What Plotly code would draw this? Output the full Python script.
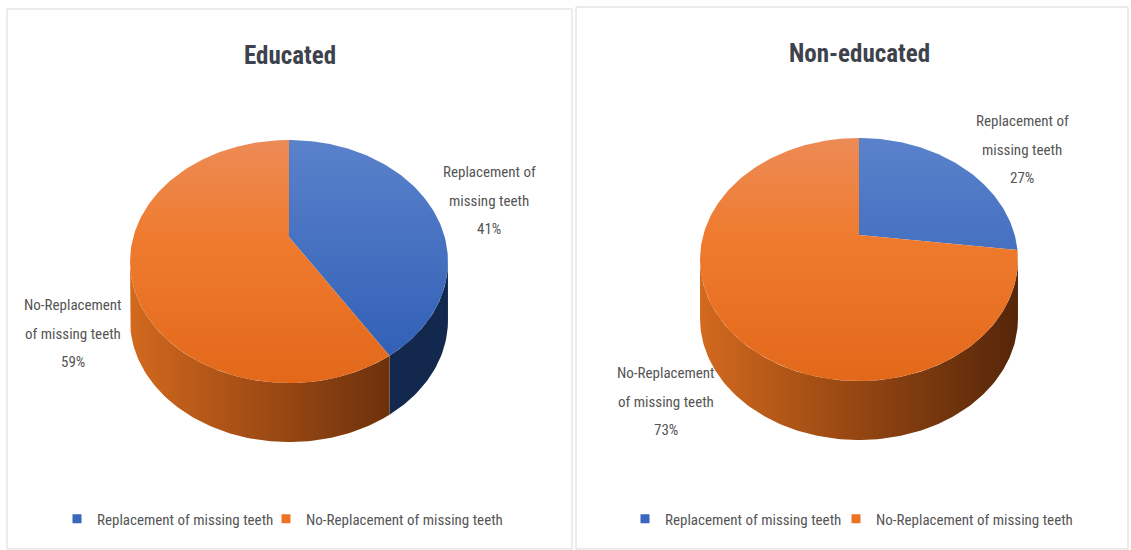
import numpy as np
import plotly.graph_objects as go

# ---------------- data ----------------
categories = ["Replacement of missing teeth", "No-Replacement of missing teeth"]
panel_titles = ["Educated", "Non-educated"]
educated_pct = [41, 59]
non_educated_pct = [27, 73]
label_lines = [["Replacement of", "missing teeth"], ["No-Replacement", "of missing teeth"]]

# ---------------- style ----------------
W, H = 1131, 550
FONT = "Liberation Sans Narrow, Roboto Condensed, Roboto, Open Sans, sans-serif"
TOP_SCALES = [
    [[0, "#2d5cb4"], [1, "#5a82cb"]],
    [[0, "#e3681a"], [0.6, "#ef7b2f"], [1, "#ec8b56"]],
]
SIDE_COLORS = ["#13284d", None]
SIDE_SCALE = [[0, "#d2691e"], [0.45, "#9b4913"], [1, "#552609"]]
LEGEND_COLORS = ["#3a66bd", "#ec7224"]
PERSP = 0.2016          # perspective foreshortening
SX, SY = 155.7, 116.6   # projected radii
PANELS = [
    dict(cx=289, cy=H - 237, depth=59,
         title_x=290, title_y=55, legend_x=[57, 266],
         label_pos=[(489, 172), (73, 305)]),
    dict(cx=859, cy=H - 235, depth=59,
         title_x=859, title_y=53, legend_x=[625, 836],
         label_pos=[(1022, 121), (666, 373)]),
]
LINE_GAP = 28.5


def proj(g, t, dy=0.0):
    w = 1 + PERSP * np.cos(t)
    return g["cx"] + SX * np.sin(t) / w, g["cy"] + SY * np.cos(t) / w - dy


def arc(g, p0, p1, dy=0.0):
    n = max(3, int(abs(p1 - p0) / (2 * np.pi) * 300))
    return proj(g, np.linspace(p0, p1, n), dy)


def pie3d(values, g):
    traces_side, traces_top = [], []
    total = float(sum(values))
    sil = np.arccos(-PERSP)               # silhouette angle (widest point)
    y_top = g["cy"] + SY / (1 + PERSP)
    y_bot = g["cy"] - SY / (1 - PERSP)
    cum = 0.0
    for i, v in enumerate(values):
        p0 = 2 * np.pi * cum / total
        p1 = 2 * np.pi * (cum + v) / total
        cum += v
        # visible side wall (front part)
        s, e = max(p0, sil), min(p1, 2 * np.pi - sil)
        if e > s:
            xt, yt = arc(g, s, e)
            xb, yb = arc(g, e, s, g["depth"])
            xs = np.concatenate([xt, xb, xt[:1]])
            ys = np.concatenate([yt, yb, yt[:1]])
            kw = dict(x=xs, y=ys, mode="lines", fill="toself",
                      line=dict(width=0), hoverinfo="skip", showlegend=False)
            if SIDE_COLORS[i]:
                kw["fillcolor"] = SIDE_COLORS[i]
            else:
                kw["fillgradient"] = dict(type="horizontal", colorscale=SIDE_SCALE,
                                          start=g["cx"] - SX * 1.02, stop=g["cx"] + SX * 1.02)
            traces_side.append(go.Scatter(**kw))
        # top face
        xa, ya = arc(g, p0, p1)
        xs = np.concatenate([[g["cx"]], xa, [g["cx"]]])
        ys = np.concatenate([[g["cy"]], ya, [g["cy"]]])
        traces_top.append(go.Scatter(
            x=xs, y=ys, mode="lines", fill="toself", line=dict(width=0),
            fillgradient=dict(type="vertical", colorscale=TOP_SCALES[i],
                              start=y_bot, stop=y_top),
            hoverinfo="skip", showlegend=False))
    return traces_side + traces_top


fig = go.Figure()
annotations = []
series = [educated_pct, non_educated_pct]
legend_layout = {}
legend_common = dict(orientation="h", yanchor="middle", y=1 - 519 / H, xanchor="left",
                     font=dict(family=FONT, size=15, color="#555555"),
                     bgcolor="rgba(0,0,0,0)", itemclick=False, itemdoubleclick=False)

for k, (vals, g) in enumerate(zip(series, PANELS)):
    for tr in pie3d(vals, g):
        fig.add_trace(tr)
    annotations.append(dict(x=g["title_x"], y=H - g["title_y"], xref="x", yref="y",
                            text="<b>%s</b>" % panel_titles[k], showarrow=False,
                            font=dict(family=FONT, size=25, color="#3d424c")))
    for i, v in enumerate(vals):
        lx, ly = g["label_pos"][i]
        lines = label_lines[i] + ["%d%%" % v]
        for j, txt in enumerate(lines):
            annotations.append(dict(x=lx, y=H - (ly + j * LINE_GAP), xref="x", yref="y",
                                    text=txt, showarrow=False,
                                    font=dict(family=FONT, size=15, color="#555555")))
    for i, c in enumerate(categories):
        n = 2 * k + i + 1
        lname = "legend" if n == 1 else "legend%d" % n
        fig.add_trace(go.Scatter(
            x=[None], y=[None], mode="markers", name=c,
            marker=dict(symbol="square", size=9, color=LEGEND_COLORS[i]),
            legend=lname, hoverinfo="skip"))
        legend_layout[lname] = dict(x=g["legend_x"][i] / W, **legend_common)

shapes = [
    dict(type="rect", xref="x", yref="y", x0=7, x1=572, y0=H - 549, y1=H - 9,
         line=dict(color="#d9d9d9", width=1), layer="below"),
    dict(type="rect", xref="x", yref="y", x0=576, x1=1128, y0=H - 549, y1=H - 7,
         line=dict(color="#d9d9d9", width=1), layer="below"),
]

fig.update_layout(
    width=W, height=H,
    margin=dict(l=0, r=0, t=0, b=0),
    paper_bgcolor="white", plot_bgcolor="white",
    xaxis=dict(range=[0, W], visible=False, fixedrange=True, domain=[0, 1]),
    yaxis=dict(range=[0, H], visible=False, fixedrange=True, domain=[0, 1]),
    annotations=annotations,
    shapes=shapes,
    hovermode=False,
    **legend_layout,
)

fig.write_html("out.html")
